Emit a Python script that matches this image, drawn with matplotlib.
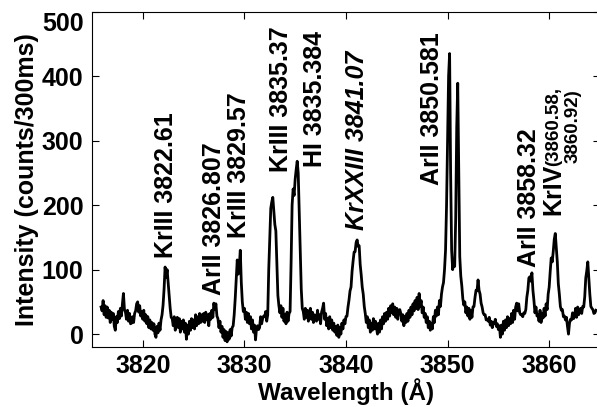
import numpy as np
import matplotlib.pyplot as plt

plt.rcParams['font.family'] = ['Liberation Sans', 'DejaVu Sans']
plt.rcParams['font.weight'] = 'bold'

start_wl = 3815.9
step_wl = 0.1
intensity = [
    42,
    36, 52, 30, 44, 26, 42, 25, 37, 18, 34,        # 3816
    23, 32, 12, 6, 27, 18, 35, 24, 40, 28,         # 3817
    47, 63, 38, 34, 23, 37, 20, 32, 16, 17,        # 3818
    27, 18, 32, 36, 47, 50, 34, 44, 28, 35,        # 3819
    23, 37, 20, 30, 16, 27, 10, 22, 8, 18,         # 3820
    6, 16, 0, -5, 12, 2, 17, 6, 22, 30,            # 3821
    45, 70, 104, 88, 100, 80, 60, 40, 26, 24,      # 3822
    13, 27, 6, 20, 26, 10, 24, 3, 20, 8,           # 3823
    22, 3, 17, -8, 14, 0, 20, 6, 24, 10,           # 3824
    22, 8, 30, 13, 27, 16, 32, 18, 30, 20,         # 3825
    32, 18, 34, 22, 30, 13, 32, 23, 37, 26,        # 3826
    48, 38, 47, 28, 24, 10, 20, 3, 12, -5,         # 3827
    7, -10, 4, -12, 2, -8, 7, -3, 10, 13,          # 3828
    30, 55, 85, 115, 93, 105, 130, 80, 50, 35,     # 3829
    40, 23, 34, 18, 32, 16, 27, 8, 22, 3,          # 3830
    14, -9, 10, 13, 7, 10, 27, 16, 24, 28,         # 3831
    27, 35, 20, 30, 100, 150, 195, 205, 212, 190,  # 3832
    170, 160, 110, 60, 44, 33, 44, 26, 40, 20,     # 3833
    30, 16, 34, 20, 32, 35, 110, 200, 225, 215,    # 3834
    240, 255, 268, 250, 190, 130, 70, 40, 35, 23,  # 3835
    40, 26, 37, 20, 32, 40, 23, 34, 18, 30,        # 3836
    28, 20, 37, 23, 30, 16, 34, 40, 48, 23,        # 3837
    32, 13, 24, 8, 27, 10, 22, 6, 17, 3,           # 3838
    12, -2, 14, -5, 10, 0, 17, 8, 22, 16,          # 3839
    27, 28, 42, 53, 67, 73, 97, 113, 127, 128,     # 3840
    142, 146, 136, 137, 108, 92, 73, 62, 43, 32,   # 3841
    18, 27, 10, 22, 3, 17, 6, 24, 8, 20,           # 3842
    10, 0, 17, 3, 22, 8, 27, 16, 32, 20,           # 3843
    34, 23, 40, 28, 44, 33, 47, 30, 42, 26,        # 3844
    40, 23, 37, 38, 32, 20, 30, 13, 27, 18,        # 3845
    32, 20, 37, 26, 42, 30, 47, 36, 52, 40,        # 3846
    57, 38, 63, 43, 52, 33, 42, 26, 32, 18,        # 3847
    27, 10, 20, 6, 17, 8, 27, 18, 37, 28,          # 3848
    42, 30, 52, 43, 62, 73, 80, 100, 130, 200,     # 3849
    300, 400, 435, 250, 130, 100, 110, 105, 180, 320,  # 3850
    389, 250, 120, 90, 75, 55, 45, 50, 33, 42,     # 3851
    28, 40, 23, 37, 26, 42, 43, 57, 68, 67,        # 3852
    84, 68, 62, 48, 42, 33, 30, 30, 22, 23,        # 3853
    20, 26, 14, 20, 10, 18, 17, 23, 12, 16,        # 3854
    7, 13, -5, 14, 0, 20, 6, 22, 10, 27,           # 3855
    13, 24, 16, 32, 18, 37, 23, 42, 48, 36,        # 3856
    47, 33, 30, 30, 27, 33, 32, 38, 57, 68,        # 3857
    87, 89, 82, 95, 68, 52, 33, 42, 28, 30,        # 3858
    20, 37, 18, 32, 25, 40, 28, 47, 38, 62,        # 3859
    73, 97, 118, 112, 128, 147, 156, 133, 112, 78,  # 3860
    62, 43, 37, 38, 27, 28, 22, 26, 12, 0,         # 3861
    17, 23, 22, 33, 24, 28, 40, 26, 42, 30,        # 3862
    37, 40, 32, 43, 42, 58, 87, 98, 112, 88,       # 3863
    62, 43, 40, 38, 32, 33, 37,                    # 3864
]
wavelength = start_wl + step_wl * np.arange(len(intensity))

# line labels: (text, x, y, style)
labels = [
    ("KrIII 3822.61", 3822.3, 118, 'normal'),
    ("ArII 3826.807", 3827.0, 60, 'normal'),
    ("KrIII 3829.57", 3829.5, 149, 'normal'),
    ("KrIII 3835.37", 3833.6, 251, 'normal'),
    ("HI 3835.384", 3837.0, 259, 'normal'),
    ("KrXXIII 3841.07", 3841.1, 161, 'italic'),
    ("ArII 3850.581", 3848.5, 231, 'normal'),
    ("ArII 3858.32", 3858.0, 104, 'normal'),
    ("KrIV", 3860.4, 184, 'normal'),
]
small_labels = [
    ("(3860.58,", 3860.4, 260),
    ("3860.92)", 3862.4, 265),
]

fig = plt.figure(figsize=(5.97, 4.07), dpi=100)
ax = fig.add_axes([0.154, 0.1474, 0.851, 0.824])

ax.plot(wavelength, intensity, color='black', lw=2.0)

for txt, x, y, style in labels:
    ax.text(x, y, txt, rotation=90, ha='center', va='bottom',
            fontsize=18, fontweight='bold', fontstyle=style)
for txt, x, y in small_labels:
    ax.text(x, y, txt, rotation=90, ha='center', va='bottom',
            fontsize=13.5, fontweight='bold')

ax.set_xlim(3815, 3865)
ax.set_ylim(-20, 500)
ax.set_xticks([3820, 3830, 3840, 3850, 3860])
ax.set_yticks([0, 100, 200, 300, 400, 500])
ax.tick_params(direction='in', length=5, width=0.8, top=True, right=True,
               labelsize=18, pad=6)
ax.tick_params(axis='x', pad=5)
for lab in ax.get_xticklabels() + ax.get_yticklabels():
    lab.set_fontweight('bold')
ax.get_yticklabels()[-1].set_verticalalignment('top')
for sp in ax.spines.values():
    sp.set_linewidth(0.8)

ax.set_xlabel("Wavelength (Å)", fontsize=17.5, fontweight='bold', labelpad=0)
ax.set_ylabel("Intensity (counts/300ms)", fontsize=18, fontweight='bold', labelpad=2)

fig.savefig("out.png", dpi=100)
